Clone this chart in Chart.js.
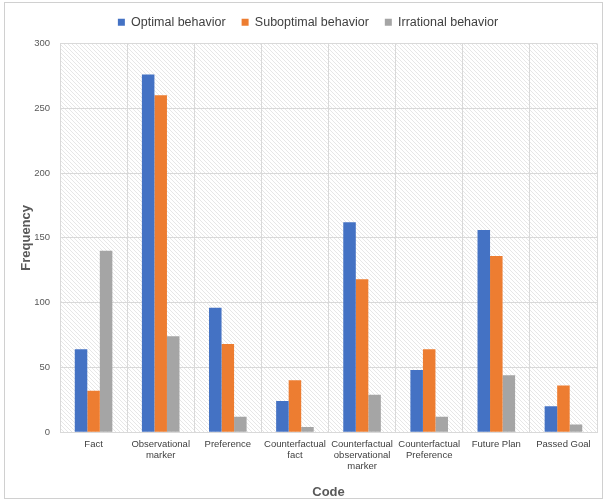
<!DOCTYPE html>
<html>
<head>
<meta charset="utf-8">
<script src="https://cdn.jsdelivr.net/npm/chart.js@4.4.1/dist/chart.umd.min.js"></script>
<style>
  html, body { margin: 0; padding: 0; background: #fff; }
  #wrap { width: 605px; height: 502px; position: relative; }
</style>
</head>
<body>
<div id="wrap"><canvas id="chart"></canvas></div>
<script>
// data
const codes = [
  "Fact",
  ["Observational", "marker"],
  "Preference",
  ["Counterfactual", "fact"],
  ["Counterfactual", "observational", "marker"],
  ["Counterfactual", "Preference"],
  "Future Plan",
  "Passed Goal"
];
const optimal = [64, 276, 96, 24, 162, 48, 156, 20];
const suboptimal = [32, 260, 68, 40, 118, 64, 136, 36];
const irrational = [140, 74, 12, 4, 29, 12, 44, 6];
const yTicks = [0, 50, 100, 150, 200, 250, 300];

// hatched plot background + outer frame
function makeHatch() {
  const c = document.createElement("canvas");
  c.width = 4; c.height = 4;
  const g = c.getContext("2d");
  g.fillStyle = "#ffffff";
  g.fillRect(0, 0, 4, 4);
  g.strokeStyle = "#dcdcdc";
  g.lineWidth = 0.7;
  g.beginPath();
  g.moveTo(0, 0); g.lineTo(4, 4);
  g.moveTo(-1, 3); g.lineTo(1, 5);
  g.moveTo(3, -1); g.lineTo(5, 1);
  g.stroke();
  return c;
}

const backdrop = {
  id: "backdrop",
  beforeInit(chart) {
    // a bit more room under the legend
    if (chart.legend) {
      const fit = chart.legend.fit;
      chart.legend.fit = function () {
        fit.call(this);
        this.height += 5;
      };
    }
  },
  beforeDraw(chart) {
    const ctx = chart.ctx;
    const a = chart.chartArea;
    ctx.save();
    ctx.fillStyle = "#fff";
    ctx.fillRect(0, 0, chart.width, chart.height);
    ctx.fillStyle = ctx.createPattern(makeHatch(), "repeat");
    ctx.fillRect(a.left, a.top, a.right - a.left, a.bottom - a.top);
    ctx.strokeStyle = "#d0d0d0";
    ctx.lineWidth = 1;
    ctx.strokeRect(4.5, 2.5, chart.width - 7, chart.height - 6);
    ctx.restore();
  }
};

new Chart(document.getElementById("chart"), {
  type: "bar",
  data: {
    labels: codes,
    datasets: [
      { label: "Optimal behavior", data: optimal, backgroundColor: "#4472c4" },
      { label: "Suboptimal behavior", data: suboptimal, backgroundColor: "#ed7d31" },
      { label: "Irrational behavior", data: irrational, backgroundColor: "#a5a5a5" }
    ]
  },
  options: {
    responsive: true,
    maintainAspectRatio: false,
    animation: false,
    datasets: { bar: { categoryPercentage: 0.56, barPercentage: 1 } },
    layout: { padding: { left: 19, right: 8, top: 0, bottom: 2 } },
    plugins: {
      tooltip: { enabled: false },
      legend: {
        position: "top",
        labels: {
          boxWidth: 7,
          boxHeight: 7,
          padding: 16,
          color: "#404040",
          font: { family: "Liberation Sans", size: 12.5 }
        }
      }
    },
    scales: {
      x: {
        grid: { color: "#d9d9d9", offset: true, drawTicks: false },
        border: { color: "#d9d9d9" },
        ticks: {
          color: "#404040",
          padding: 6,
          maxRotation: 0,
          autoSkip: false,
          font: { family: "Liberation Sans", size: 9.5, lineHeight: 1.2 }
        },
        title: {
          display: true,
          text: "Code",
          color: "#595959",
          padding: { top: 6, bottom: 0 },
          font: { family: "Liberation Sans", size: 13, weight: "bold" }
        }
      },
      y: {
        min: 0,
        max: 300,
        afterBuildTicks(axis) { axis.ticks = yTicks.map(v => ({ value: v })); },
        afterFit(axis) { axis.width = 41; },
        grid: { color: "#d9d9d9", drawTicks: false },
        border: { color: "#d9d9d9" },
        ticks: {
          color: "#595959",
          padding: 10,
          font: { family: "Liberation Sans", size: 9.5 }
        },
        title: {
          display: true,
          text: "Frequency",
          color: "#595959",
          padding: { top: 0, bottom: 0 },
          font: { family: "Liberation Sans", size: 13, weight: "bold" }
        }
      }
    }
  },
  plugins: [backdrop]
});
</script>
</body>
</html>
